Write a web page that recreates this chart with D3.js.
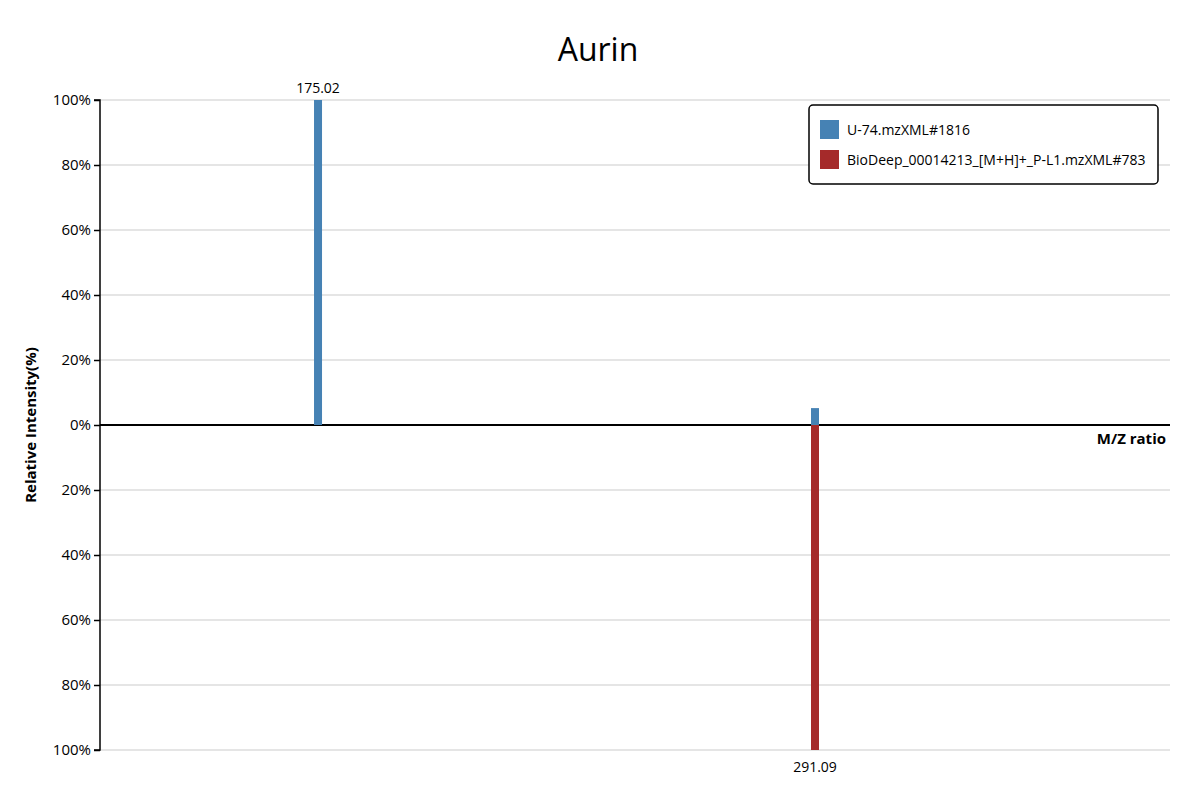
<!DOCTYPE html>
<html>
<head>
<meta charset="utf-8">
<script src="https://cdn.jsdelivr.net/npm/d3@7"></script>
<style>
  body { margin: 0; background: #fff; font-family: "Open Sans", "Noto Sans", sans-serif; }
</style>
</head>
<body>
<svg id="chart" width="1200" height="800"></svg>
<script>
// spectrum data
var titleText = "Aurin";
var seriesNames = ["U-74.mzXML#1816", "BioDeep_00014213_[M+H]+_P-L1.mzXML#783"];
var seriesColors = ["steelblue", "brown"];
var queryMz = [175.02, 291.09];
var queryInto = [100, 5.2];
var refMz = [291.09];
var refInto = [100];
var yTicks = [-100, -80, -60, -40, -20, 0, 20, 40, 60, 80, 100];

(function() {
var svg = d3.select("#chart");
var mLeft = 100, mRight = 1170, mTop = 100, mBottom = 750;

var x = d3.scaleLinear().domain([124.1, 374]).range([mLeft, mRight]);
var y = d3.scaleLinear().domain([-100, 100]).range([mBottom, mTop]);

svg.append("text")
    .attr("x", 598).attr("y", 61)
    .attr("text-anchor", "middle")
    .style("font-size", "32px")
    .text(titleText);

// grid
svg.append("g").selectAll("line").data(yTicks).enter().append("line")
    .attr("x1", mLeft).attr("x2", mRight)
    .attr("y1", function(d) { return y(d); })
    .attr("y2", function(d) { return y(d); })
    .attr("stroke", "#ddd").attr("stroke-width", 1.5);

// y axis
var yAxis = d3.axisLeft(y).tickValues(yTicks).tickSize(6)
    .tickFormat(function(d) { return Math.abs(d) + "%"; });
var ga = svg.append("g").attr("transform", "translate(" + mLeft + ",0)").call(yAxis);
ga.selectAll("text").style("font-size", "15px").style("font-family", "Open Sans, sans-serif").attr("fill", "#000");
ga.selectAll("line,path").attr("stroke", "#000").attr("stroke-width", 1.5);
ga.select(".domain").attr("d", "M-6," + mTop + "H0V" + mBottom + "H-6");

// zero line
svg.append("line")
    .attr("x1", mLeft).attr("x2", mRight)
    .attr("y1", y(0)).attr("y2", y(0))
    .attr("stroke", "#000").attr("stroke-width", 2);

svg.append("text")
    .attr("x", 1166).attr("y", y(0) + 19)
    .attr("text-anchor", "end")
    .style("font-size", "15px").style("font-weight", "bold")
    .text("M/Z ratio");

svg.append("text")
    .attr("transform", "translate(36," + y(0) + ") rotate(-90)")
    .attr("text-anchor", "middle")
    .style("font-size", "15px").style("font-weight", "bold")
    .text("Relative Intensity(%)");

var bw = 8;
svg.append("g").selectAll("rect").data(queryMz).enter().append("rect")
    .attr("x", function(d) { return x(d) - bw / 2; })
    .attr("y", function(d, i) { return y(queryInto[i]); })
    .attr("width", bw)
    .attr("height", function(d, i) { return y(0) - y(queryInto[i]); })
    .attr("fill", seriesColors[0]);

svg.append("g").selectAll("rect").data(refMz).enter().append("rect")
    .attr("x", function(d) { return x(d) - bw / 2; })
    .attr("y", y(0))
    .attr("width", bw)
    .attr("height", function(d, i) { return y(-refInto[i]) - y(0); })
    .attr("fill", seriesColors[1]);

// peak labels
svg.append("text").attr("x", x(queryMz[0])).attr("y", y(queryInto[0]) - 7)
    .attr("text-anchor", "middle").style("font-size", "14px").text(queryMz[0].toFixed(2));
svg.append("text").attr("x", x(refMz[0])).attr("y", y(-refInto[0]) + 22)
    .attr("text-anchor", "middle").style("font-size", "14px").text(refMz[0].toFixed(2));

// legend
var lg = svg.append("g").attr("transform", "translate(809,105)");
lg.append("rect").attr("width", 349).attr("height", 79).attr("rx", 4)
    .attr("fill", "#fff").attr("stroke", "#000").attr("stroke-width", 1.5);
seriesNames.forEach(function(name, i) {
    lg.append("rect").attr("x", 11).attr("y", 15 + i * 30).attr("width", 19).attr("height", 19)
        .attr("fill", seriesColors[i]);
    lg.append("text").attr("x", 38).attr("y", 30 + i * 30)
        .style("font-size", "14px").text(name);
});
})();
</script>
</body>
</html>
